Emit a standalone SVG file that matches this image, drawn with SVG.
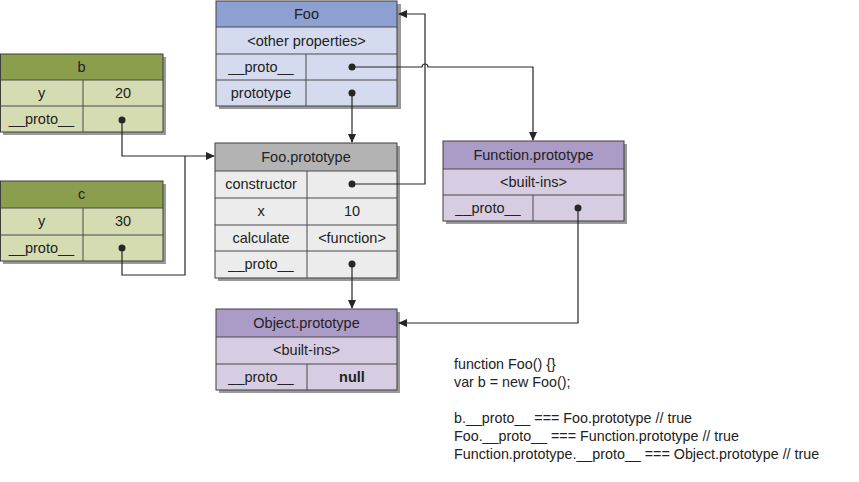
<svg xmlns="http://www.w3.org/2000/svg" width="859" height="482" viewBox="0 0 859 482">
<style>
text{font-family:"Liberation Sans",Arial,sans-serif;font-size:14.5px;fill:#222;text-anchor:middle}
.code{text-anchor:start;font-size:14.3px}
.sh{fill:#9a9a9a}
.bd{fill:none;stroke:#3f3f3f;stroke-width:1}
.dv{stroke:#4a4a4a;stroke-width:1}
.hb{fill:#8e9fd2}.rb{fill:#d4dbef}
.hg{fill:#8b9e4e}.rg{fill:#d5dcb2}
.hy{fill:#b3b3b3}.ry{fill:#ececec}
.hp{fill:#ab9bc7}.rp{fill:#d6cde3}
.ln{fill:none;stroke:#262626;stroke-width:1.2}
.dot{fill:#262626}
</style>
<defs>
<marker id="ah" markerWidth="9" markerHeight="8" refX="8" refY="4" orient="auto" markerUnits="userSpaceOnUse">
<path d="M0,0 L9,4 L0,8 z" fill="#262626"/>
</marker>
</defs>

<g id="foo">
<rect class="sh" x="219" y="4" width="182" height="105"/>
<rect class="hb" x="216" y="1" width="181" height="26"/>
<rect class="rb" x="216" y="27" width="181" height="79"/>
<line class="dv" x1="216" y1="27" x2="397" y2="27"/>
<line class="dv" x1="216" y1="54" x2="397" y2="54"/>
<line class="dv" x1="216" y1="80" x2="397" y2="80"/>
<line class="dv" x1="306" y1="54" x2="306" y2="106"/>
<rect class="bd" x="216" y="1" width="181" height="105"/>
<text x="306.5" y="19">Foo</text>
<text x="306.5" y="46">&lt;other properties&gt;</text>
<text x="261" y="72">__proto__</text>
<text x="261" y="98">prototype</text>
<circle class="dot" cx="352" cy="67" r="3.5"/>
<circle class="dot" cx="352" cy="93" r="3.5"/>
</g>

<g id="b">
<rect class="sh" x="3" y="57" width="163" height="78"/>
<rect class="hg" x="0" y="54" width="163" height="26"/>
<rect class="rg" x="0" y="80" width="163" height="52"/>
<line class="dv" x1="0" y1="80" x2="163" y2="80"/>
<line class="dv" x1="0" y1="106" x2="163" y2="106"/>
<line class="dv" x1="83" y1="80" x2="83" y2="132"/>
<rect class="bd" x="0.5" y="54" width="162.5" height="78"/>
<text x="81.5" y="72">b</text>
<text x="41.5" y="98">y</text>
<text x="123" y="98">20</text>
<text x="41.5" y="124">__proto__</text>
<circle class="dot" cx="122" cy="120" r="3.5"/>
</g>

<g id="c">
<rect class="sh" x="3" y="184" width="163" height="80"/>
<rect class="hg" x="0" y="181" width="163" height="27"/>
<rect class="rg" x="0" y="208" width="163" height="53"/>
<line class="dv" x1="0" y1="208" x2="163" y2="208"/>
<line class="dv" x1="0" y1="235" x2="163" y2="235"/>
<line class="dv" x1="83" y1="208" x2="83" y2="261"/>
<rect class="bd" x="0.5" y="181" width="162.5" height="80"/>
<text x="81.5" y="199">c</text>
<text x="41.5" y="226">y</text>
<text x="123" y="226">30</text>
<text x="41.5" y="253">__proto__</text>
<circle class="dot" cx="122" cy="248" r="3.5"/>
</g>

<g id="foo-prototype">
<rect class="sh" x="218" y="146" width="182" height="135"/>
<rect class="hy" x="215" y="143" width="182" height="28"/>
<rect class="ry" x="215" y="171" width="182" height="107"/>
<line class="dv" x1="215" y1="171" x2="397" y2="171"/>
<line class="dv" x1="215" y1="198" x2="397" y2="198"/>
<line class="dv" x1="215" y1="225" x2="397" y2="225"/>
<line class="dv" x1="215" y1="251" x2="397" y2="251"/>
<line class="dv" x1="307" y1="171" x2="307" y2="278"/>
<rect class="bd" x="215" y="143" width="182" height="135"/>
<text x="306" y="162">Foo.prototype</text>
<text x="261" y="189">constructor</text>
<text x="261" y="216">x</text>
<text x="352" y="216">10</text>
<text x="261" y="243">calculate</text>
<text x="352" y="243">&lt;function&gt;</text>
<text x="261" y="269">__proto__</text>
<circle class="dot" cx="352" cy="184" r="3.5"/>
<circle class="dot" cx="352" cy="264" r="3.5"/>
</g>

<g id="function-prototype">
<rect class="sh" x="446" y="144" width="181" height="80"/>
<rect class="hp" x="443" y="141" width="181" height="28"/>
<rect class="rp" x="443" y="169" width="181" height="52"/>
<line class="dv" x1="443" y1="169" x2="624" y2="169"/>
<line class="dv" x1="443" y1="195" x2="624" y2="195"/>
<line class="dv" x1="533" y1="195" x2="533" y2="221"/>
<rect class="bd" x="443" y="141" width="181" height="80"/>
<text x="533.5" y="160">Function.prototype</text>
<text x="533.5" y="187">&lt;built-ins&gt;</text>
<text x="488" y="213">__proto__</text>
<circle class="dot" cx="578" cy="208" r="3.5"/>
</g>

<g id="object-prototype">
<rect class="sh" x="219" y="312" width="181" height="81"/>
<rect class="hp" x="216" y="309" width="181" height="28"/>
<rect class="rp" x="216" y="337" width="181" height="53"/>
<line class="dv" x1="216" y1="337" x2="397" y2="337"/>
<line class="dv" x1="216" y1="364" x2="397" y2="364"/>
<line class="dv" x1="307" y1="364" x2="307" y2="390"/>
<rect class="bd" x="216" y="309" width="181" height="81"/>
<text x="306.5" y="328">Object.prototype</text>
<text x="306.5" y="355">&lt;built-ins&gt;</text>
<text x="261" y="382">__proto__</text>
<text x="352" y="382" font-weight="bold">null</text>
</g>

<g id="connectors">
<path class="ln" d="M352,67 H422 A3,3 0 0 1 428,67 H533 V140" marker-end="url(#ah)"/>
<path class="ln" d="M352,93 V142" marker-end="url(#ah)"/>
<path class="ln" d="M352,184 H425 V14 H399" marker-end="url(#ah)"/>
<path class="ln" d="M122,120 V156 H214" marker-end="url(#ah)"/>
<path class="ln" d="M122,248 V275 H185 V156"/>
<path class="ln" d="M352,264 V308" marker-end="url(#ah)"/>
<path class="ln" d="M578,208 V323 H399" marker-end="url(#ah)"/>
</g>

<g id="code">
<text class="code" x="454" y="369">function Foo() {}</text>
<text class="code" x="454" y="387">var b = new Foo();</text>
<text class="code" x="454" y="423">b.__proto__ === Foo.prototype // true</text>
<text class="code" x="454" y="441">Foo.__proto__ === Function.prototype // true</text>
<text class="code" x="454" y="459">Function.prototype.__proto__ === Object.prototype // true</text>
</g>
</svg>
